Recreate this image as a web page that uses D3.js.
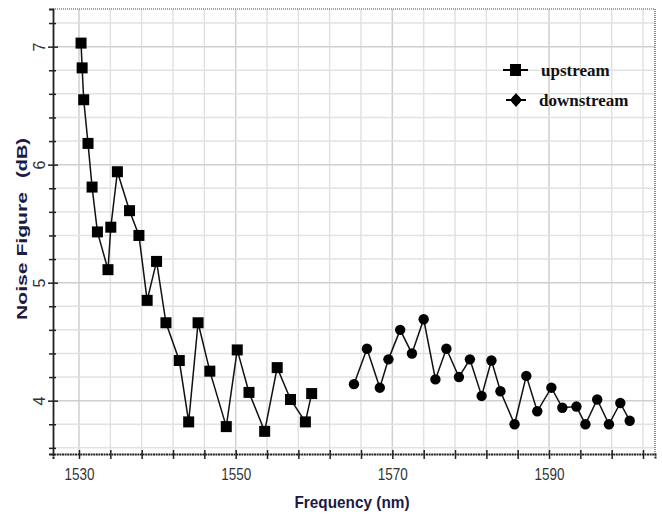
<!DOCTYPE html>
<html>
<head>
<meta charset="utf-8">
<script src="https://cdn.jsdelivr.net/npm/d3@7"></script>
<style>
  html, body { margin: 0; padding: 0; background: #fff; }
  svg { display: block; }
</style>
</head>
<body>
<svg id="chart" width="662" height="514"></svg>
<script>
// ---- Data ----
const upstreamX = [1530.26, 1530.4, 1530.6, 1531.15, 1531.67, 1532.35, 1533.7, 1534.06, 1534.9, 1536.45, 1537.65, 1538.7, 1539.9, 1541.1, 1542.8, 1544.0, 1545.2, 1546.7, 1548.8, 1550.2, 1551.7, 1553.7, 1555.3, 1557.0, 1558.9, 1559.7];
const upstreamY = [7.03, 6.82, 6.55, 6.18, 5.81, 5.43, 5.11, 5.47, 5.94, 5.61, 5.40, 4.85, 5.18, 4.66, 4.34, 3.82, 4.66, 4.25, 3.78, 4.43, 4.07, 3.74, 4.28, 4.01, 3.82, 4.06];
const downstreamX = [1565.1, 1566.76, 1568.4, 1569.5, 1571.0, 1572.5, 1574.0, 1575.5, 1576.9, 1578.5, 1579.9, 1581.4, 1582.65, 1583.8, 1585.6, 1587.1, 1588.5, 1590.3, 1591.7, 1593.5, 1594.65, 1596.15, 1597.65, 1599.1, 1600.3];
const downstreamY = [4.14, 4.44, 4.11, 4.35, 4.60, 4.40, 4.69, 4.18, 4.44, 4.20, 4.35, 4.04, 4.34, 4.08, 3.80, 4.21, 3.91, 4.11, 3.94, 3.95, 3.80, 4.01, 3.80, 3.98, 3.83];
const xTickLabels = [1530, 1550, 1570, 1590];
const yTickLabels = [4, 5, 6, 7];
const seriesNames = ["upstream", "downstream"];
const xTitle = "Frequency (nm)";
const yTitleParts = ["Noise Figure", "(dB)"];

// ---- Layout ----
const svg = d3.select("#chart");
const L = 53, R = 655, T = 9, B = 454;
const x = d3.scaleLinear().domain([1526.68, 1603.53]).range([L, R]);
const y = d3.scaleLinear().domain([3.548, 7.319]).range([B, T]);

const xGrid = d3.range(1530, 1603.5, 4);
const yGrid = d3.range(3.6, 7.25, 0.2).map(v => +v.toFixed(1));

// grid
const g = svg.append("g");
g.selectAll(".vg").data(xGrid).join("line")
  .attr("x1", d => x(d)).attr("x2", d => x(d)).attr("y1", T).attr("y2", B)
  .attr("stroke", d => xTickLabels.includes(d) ? "#cfcfcf" : "#e2e2e2").attr("stroke-width", 1.5);
g.selectAll(".hg").data(yGrid).join("line")
  .attr("x1", L).attr("x2", R).attr("y1", d => y(d)).attr("y2", d => y(d))
  .attr("stroke", d => yTickLabels.includes(d) ? "#cfcfcf" : "#e2e2e2").attr("stroke-width", 1.5);

// top & right dotted borders
svg.append("line").attr("x1", L).attr("x2", R).attr("y1", T).attr("y2", T)
  .attr("stroke", "#444").attr("stroke-width", 1.2).attr("stroke-dasharray", "1,1");
svg.append("line").attr("x1", R).attr("x2", R).attr("y1", T).attr("y2", B)
  .attr("stroke", "#444").attr("stroke-width", 1.2).attr("stroke-dasharray", "1,1");

const narrow = "'Liberation Sans Narrow', 'Arial Narrow', 'Liberation Sans', Arial, sans-serif";

// axes
const fmtX = d => xTickLabels.includes(d) ? d : "";
const fmtY = d => yTickLabels.includes(d) ? d : "";
const xAxis = svg.append("g").attr("transform", `translate(0,${B})`)
  .call(d3.axisBottom(x).tickValues(xGrid).tickFormat(fmtX).tickSize(5).tickPadding(10));
xAxis.select(".domain").attr("stroke", "#222").attr("stroke-width", 2).attr("stroke-dasharray", "2,0.6");
xAxis.selectAll(".tick line").attr("stroke", "#222").attr("stroke-width", 1.5).attr("y1", -4);
xAxis.selectAll("text").attr("font-family", narrow)
  .attr("font-size", 16).attr("fill", "#333")
  .attr("textLength", d => xTickLabels.includes(d) ? 30 : null)
  .attr("lengthAdjust", "spacingAndGlyphs");

const yAxis = svg.append("g").attr("transform", `translate(${L},0)`)
  .call(d3.axisLeft(y).tickValues(yGrid).tickFormat(fmtY).tickSize(4).tickPadding(8));
yAxis.select(".domain").attr("stroke", "#222").attr("stroke-width", 1.8);
yAxis.selectAll(".tick line").attr("stroke", "#222").attr("stroke-width", 1.5)
  .attr("x2", d => yTickLabels.includes(d) ? -5 : -4).attr("x1", d => yTickLabels.includes(d) ? 5 : 3);
yAxis.selectAll("text")
  .attr("font-family", narrow)
  .attr("font-size", 16).attr("fill", "#333")
  .attr("text-anchor", "middle").attr("dy", null).attr("x", null)
  .attr("transform", "translate(-14,0) rotate(-90)")
  .attr("dominant-baseline", "central");

// lines
const up = upstreamX.map((v, i) => [v, upstreamY[i]]);
const down = downstreamX.map((v, i) => [v, downstreamY[i]]);
const line = d3.line().x(d => x(d[0])).y(d => y(d[1]));
svg.append("path").datum(up).attr("d", line).attr("fill", "none").attr("stroke", "#111").attr("stroke-width", 1.5);
svg.append("path").datum(down).attr("d", line).attr("fill", "none").attr("stroke", "#111").attr("stroke-width", 1.5);

const sq = 11;
svg.selectAll(".up").data(up).join("rect")
  .attr("x", d => x(d[0]) - sq / 2).attr("y", d => y(d[1]) - sq / 2)
  .attr("width", sq).attr("height", sq).attr("fill", "#000");
svg.selectAll(".down").data(down).join("circle")
  .attr("cx", d => x(d[0])).attr("cy", d => y(d[1])).attr("r", 5.2).attr("fill", "#000");

// legend
const leg = svg.append("g");
leg.append("line").attr("x1", 503).attr("x2", 528).attr("y1", 70).attr("y2", 70).attr("stroke", "#000").attr("stroke-width", 2);
leg.append("rect").attr("x", 510).attr("y", 64).attr("width", 11).attr("height", 12).attr("fill", "#000");
leg.append("line").attr("x1", 506).attr("x2", 526).attr("y1", 100).attr("y2", 100).attr("stroke", "#000").attr("stroke-width", 2);
leg.append("path").attr("d", "M516,93 L522,100 L516,107 L510,100 Z").attr("fill", "#000");
leg.append("circle").attr("cx", 516).attr("cy", 100).attr("r", 4.5).attr("fill", "#000");
leg.selectAll("text").data(seriesNames).join("text")
  .attr("x", (d, i) => i === 0 ? 541 : 539).attr("y", (d, i) => i === 0 ? 76 : 106)
  .attr("font-family", "'Liberation Serif', 'Times New Roman', serif").attr("font-weight", "bold")
  .attr("font-size", 17).attr("fill", "#111").text(d => d);

// titles
svg.append("text").attr("x", 352).attr("y", 508).attr("text-anchor", "middle")
  .attr("font-family", narrow).attr("font-weight", "bold")
  .attr("font-size", 17).attr("fill", "#1b1b45")
  .attr("textLength", 115).attr("lengthAdjust", "spacingAndGlyphs").text(xTitle);
const yt = [{ t: yTitleParts[0], c: 256, w: 128 }, { t: yTitleParts[1], c: 158, w: 40 }];
svg.selectAll(".ytitle").data(yt).join("text")
  .attr("transform", d => `translate(27,${d.c}) rotate(-90)`).attr("text-anchor", "middle")
  .attr("font-family", "'Liberation Sans', Arial, sans-serif").attr("font-weight", "bold")
  .attr("font-size", 15).attr("fill", "#1b1b45")
  .attr("textLength", d => d.w).attr("lengthAdjust", "spacingAndGlyphs").text(d => d.t);
</script>
</body>
</html>
